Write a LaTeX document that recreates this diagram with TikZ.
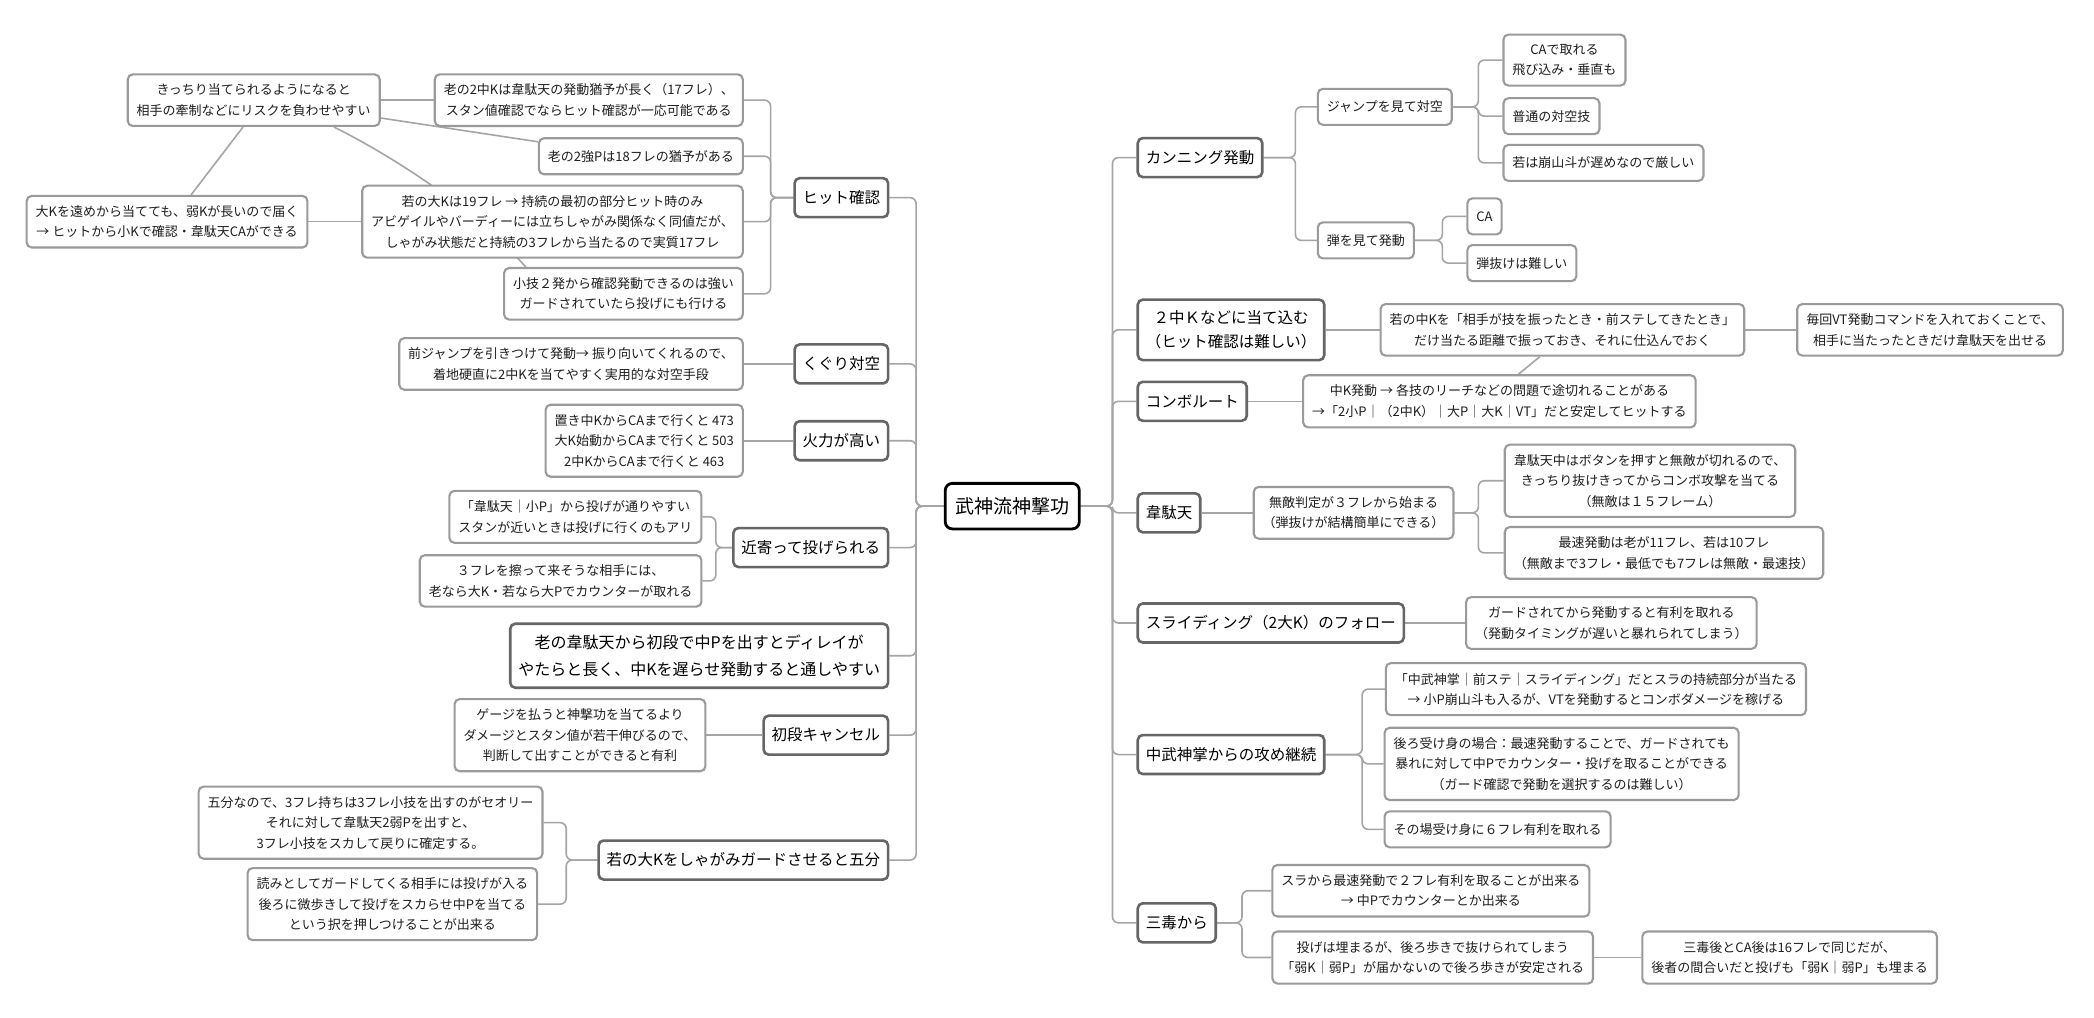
\documentclass[tikz,border=0pt]{standalone}
\usepackage{fontspec}
\setmainfont{Noto Sans CJK JP}
\usetikzlibrary{backgrounds,calc}
\definecolor{lone}{HTML}{666666}
\definecolor{ltwo}{HTML}{9A9A9A}
\definecolor{lnk}{HTML}{A5A5A5}
\definecolor{txt}{HTML}{1E1E1E}
\begin{document}
\begin{tikzpicture}[x=1.3355pt,y=-1.3355pt,
 base/.style={rectangle, fill=white, align=center, text=txt, rounded corners=5pt},
 rootbox/.style={base, draw=black, line width=2.8pt, font=\fontsize{19}{24}\selectfont, inner xsep=10pt, inner ysep=14pt, text=black, rounded corners=7pt},
 lone box/.style={base, draw=lone, line width=2.6pt, font=\fontsize{15.5}{24}\selectfont, inner xsep=8pt, inner ysep=11pt, minimum height=39pt, text=black},
 ltwo box/.style={base, draw=ltwo, line width=2.1pt, font=\fontsize{13}{20.5}\selectfont, inner xsep=9pt, inner ysep=9.5pt, minimum height=36pt},
 conn/.style={draw=lnk, line width=1.6pt, rounded corners=6pt},
 rel/.style={draw=lnk, line width=1.6pt},
]
\useasboundingbox (0,0) rectangle (1568,762);

% bracket x positions
\coordinate (tL) at (686,0);
\coordinate (tR) at (833,0);
\coordinate (bA) at (577,0);
\coordinate (bD) at (536,0);
\coordinate (bF) at (424,0);
\coordinate (bC) at (970,0);
\coordinate (bS) at (1107,0);
\coordinate (bT) at (1080,0);
\coordinate (bV) at (1107,0);
\coordinate (bM) at (1020,0);
\coordinate (bN) at (930,0);

% root
\node[rootbox] (root) at (758,379) {武神流神撃功};

% left level 1
\node[lone box, anchor=east] (h1) at (666,148) {ヒット確認};
\node[lone box, anchor=east] (h2) at (666,272.5) {くぐり対空};
\node[lone box, anchor=east] (h3) at (666,330) {火力が高い};
\node[lone box, anchor=east] (h4) at (666,410) {近寄って投げられる};
\node[lone box, anchor=east, font=\fontsize{16}{27}\selectfont] (h5) at (666,491) {老の韋駄天から初段で中Pを出すとディレイが\\やたらと長く、中Kを遅らせ発動すると通しやすい};
\node[lone box, anchor=east] (h6) at (666,550.5) {初段キャンセル};
\node[lone box, anchor=east] (h7) at (666,644) {若の大Kをしゃがみガードさせると五分};

% left level 2
\node[ltwo box, anchor=east] (a1) at (557,75) {老の2中Kは韋駄天の発動猶予が長く（17フレ）、\\スタン値確認でならヒット確認が一応可能である};
\node[ltwo box, anchor=east] (a2) at (557,117) {老の2強Pは18フレの猶予がある};
\node[ltwo box, anchor=east] (a3) at (557,166) {若の大Kは19フレ → 持続の最初の部分ヒット時のみ\\アビゲイルやバーディーには立ちしゃがみ関係なく同値だが、\\しゃがみ状態だと持続の3フレから当たるので実質17フレ};
\node[ltwo box, anchor=east] (a4) at (557,220) {小技２発から確認発動できるのは強い\\ガードされていたら投げにも行ける};
\node[ltwo box] (x1) at (190,75) {きっちり当てられるようになると\\相手の牽制などにリスクを負わせやすい};
\node[ltwo box, anchor=east] (x2) at (231,166) {大Kを遠めから当てても、弱Kが長いので届く\\→ ヒットから小Kで確認・韋駄天CAができる};
\node[ltwo box, anchor=east] (b1) at (557,272.5) {前ジャンプを引きつけて発動→ 振り向いてくれるので、\\着地硬直に2中Kを当てやすく実用的な対空手段};
\node[ltwo box, anchor=east] (c1) at (557,330) {置き中KからCAまで行くと 473\\大K始動からCAまで行くと 503\\2中KからCAまで行くと 463};
\node[ltwo box, anchor=east] (d1) at (526,387) {「韋駄天｜小P」から投げが通りやすい\\スタンが近いときは投げに行くのもアリ};
\node[ltwo box, anchor=east] (d2) at (526,435) {３フレを擦って来そうな相手には、\\老なら大K・若なら大Pでカウンターが取れる};
\node[ltwo box, anchor=east] (e1) at (529,550.5) {ゲージを払うと神撃功を当てるより\\ダメージとスタン値が若干伸びるので、\\判断して出すことができると有利};
\node[ltwo box, anchor=east] (f1) at (407,616) {五分なので、3フレ持ちは3フレ小技を出すのがセオリー\\それに対して韋駄天2弱Pを出すと、\\3フレ小技をスカして戻りに確定する。};
\node[ltwo box, anchor=east] (f2) at (403,677) {読みとしてガードしてくる相手には投げが入る\\後ろに微歩きして投げをスカらせ中Pを当てる\\という択を押しつけることが出来る};

% right level 1
\node[lone box, anchor=west] (r1) at (851,118) {カンニング発動};
\node[lone box, anchor=west] (r2) at (851,247) {２中Ｋなどに当て込む\\（ヒット確認は難しい）};
\node[lone box, anchor=west] (r3) at (851,300.5) {コンボルート};
\node[lone box, anchor=west] (r4) at (851,384) {韋駄天};
\node[lone box, anchor=west] (r5) at (851,466.5) {スライディング（2大K）のフォロー};
\node[lone box, anchor=west] (r6) at (851,565) {中武神掌からの攻め継続};
\node[lone box, anchor=west] (r7) at (851,691) {三毒から};

% right level 2+
\node[ltwo box, anchor=west] (s1) at (986,80) {ジャンプを見て対空};
\node[ltwo box, anchor=west] (s2) at (986,180) {弾を見て発動};
\node[ltwo box, anchor=west] (s11) at (1125,45) {CAで取れる\\飛び込み・垂直も};
\node[ltwo box, anchor=west] (s12) at (1125,87) {普通の対空技};
\node[ltwo box, anchor=west] (s13) at (1125,122) {若は崩山斗が遅めなので厳しい};
\node[ltwo box, anchor=west] (s21) at (1098,162) {CA};
\node[ltwo box, anchor=west] (s22) at (1098,197) {弾抜けは難しい};
\node[ltwo box, anchor=west] (t1) at (1033,247) {若の中Kを「相手が技を振ったとき・前ステしてきたとき」\\だけ当たる距離で振っておき、それに仕込んでおく};
\node[ltwo box, anchor=west] (t2) at (1345,247) {毎回VT発動コマンドを入れておくことで、\\相手に当たったときだけ韋駄天を出せる};
\node[ltwo box, anchor=west] (u1) at (975,300.5) {中K発動 → 各技のリーチなどの問題で途切れることがある\\→「2小P｜（2中K）｜大P｜大K｜VT」だと安定してヒットする};
\node[ltwo box, anchor=west] (v1) at (938,384) {無敵判定が３フレから始まる\\（弾抜けが結構簡単にできる）};
\node[ltwo box, anchor=west] (v11) at (1126,360) {韋駄天中はボタンを押すと無敵が切れるので、\\きっちり抜けきってからコンボ攻撃を当てる\\（無敵は１５フレーム）};
\node[ltwo box, anchor=west] (v12) at (1126,414) {最速発動は老が11フレ、若は10フレ\\（無敵まで3フレ・最低でも7フレは無敵・最速技）};
\node[ltwo box, anchor=west] (w1) at (1097,466.5) {ガードされてから発動すると有利を取れる\\（発動タイミングが遅いと暴れられてしまう）};
\node[ltwo box, anchor=west] (m1) at (1037,516) {「中武神掌｜前ステ｜スライディング」だとスラの持続部分が当たる\\→ 小P崩山斗も入るが、VTを発動するとコンボダメージを稼げる};
\node[ltwo box, anchor=west] (m2) at (1036,572) {後ろ受け身の場合：最速発動することで、ガードされても\\暴れに対して中Pでカウンター・投げを取ることができる\\（ガード確認で発動を選択するのは難しい）};
\node[ltwo box, anchor=west] (m3) at (1036,621) {その場受け身に６フレ有利を取れる};
\node[ltwo box, anchor=west] (n1) at (952,667) {スラから最速発動で２フレ有利を取ることが出来る\\→ 中Pでカウンターとか出来る};
\node[ltwo box, anchor=west] (n2) at (952,717) {投げは埋まるが、後ろ歩きで抜けられてしまう\\「弱K｜弱P」が届かないので後ろ歩きが安定される};
\node[ltwo box, anchor=west] (n21) at (1229,717) {三毒後とCA後は16フレで同じだが、\\後者の間合いだと投げも「弱K｜弱P」も埋まる};

\begin{scope}[on background layer]
 \fill[white] (0,0) rectangle (1568,762);
 % trunks
 \foreach \n in {h1,h2,h3,h4,h5,h6,h7}
   \draw[conn] (root.west) -- (root.west -| tL) |- (\n.east);
 \foreach \n in {r1,r2,r3,r4,r5,r6,r7}
   \draw[conn] (root.east) -- (root.east -| tR) |- (\n.west);
 % left branches
 \foreach \n in {a1,a2,a3,a4}
   \draw[conn] (h1.west) -- (h1.west -| bA) |- (\n.east);
 \draw[conn] (h2.west) -- (b1.east);
 \draw[conn] (h3.west) -- (c1.east);
 \foreach \n in {d1,d2}
   \draw[conn] (h4.west) -- (h4.west -| bD) |- (\n.east);
 \draw[conn] (h6.west) -- (e1.east);
 \foreach \n in {f1,f2}
   \draw[conn] (h7.west) -- (h7.west -| bF) |- (\n.east);
 % right branches
 \foreach \n in {s1,s2}
   \draw[conn] (r1.east) -- (r1.east -| bC) |- (\n.west);
 \foreach \n in {s11,s12,s13}
   \draw[conn] (s1.east) -- (s1.east -| bS) |- (\n.west);
 \foreach \n in {s21,s22}
   \draw[conn] (s2.east) -- (s2.east -| bT) |- (\n.west);
 \draw[conn] (r2.east) -- (t1.west);
 \draw[conn] (t1.east) -- (t2.west);
 \draw[conn] (r3.east) -- (u1.west);
 \draw[conn] (r4.east) -- (v1.west);
 \foreach \n in {v11,v12}
   \draw[conn] (v1.east) -- (v1.east -| bV) |- (\n.west);
 \draw[conn] (r5.east) -- (w1.west);
 \foreach \n in {m1,m2,m3}
   \draw[conn] (r6.east) -- (r6.east -| bM) |- (\n.west);
 \foreach \n in {n1,n2}
   \draw[conn] (r7.east) -- (r7.east -| bN) |- (\n.west);
 \draw[conn] (n2.east) -- (n21.west);
 % relationship lines
 \draw[rel] (x1.east) -- (a1.west);
 \draw[rel] (x1.-8) -- (a2.172);
 \draw[rel] ($(x1.south)+(60,0)$) .. controls +(50,25) and +(-35,-40) .. ($(a4.north west)+(17,0)$);
 \draw[rel] ($(x1.south)+(-8,0)$) -- ($(x2.north)+(18,0)$);
 \draw[rel] (x2.east) -- (a3.west);
 \draw[rel] ($(u1.north west)+(162,0)$) -- ($(t1.south west)+(120,0)$);
\end{scope}
\end{tikzpicture}
\end{document}
